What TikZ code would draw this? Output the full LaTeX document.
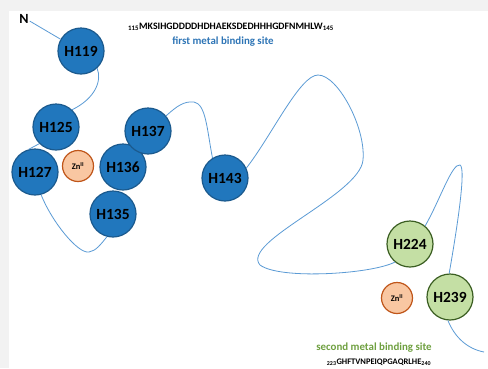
\documentclass[tikz,border=0pt]{standalone}
\usepackage{fontspec}
\setmainfont{Carlito}
\definecolor{hisblue}{HTML}{2177BD}
\definecolor{hisblueb}{HTML}{1B5A8E}
\definecolor{hisgreen}{HTML}{C4DFA4}
\definecolor{hisgreenb}{HTML}{3B5E22}
\definecolor{znfill}{HTML}{F9C7A2}
\definecolor{znb}{HTML}{C0561A}
\definecolor{chain}{HTML}{5B9BD5}
\definecolor{lblblue}{HTML}{2E75B6}
\definecolor{lblgreen}{HTML}{6FA040}
\definecolor{bggray}{HTML}{F2F2F2}
\begin{document}
\begin{tikzpicture}[x=1pt,y=-1pt,
  hisb/.style={circle,draw=hisblueb,line width=1.2pt,fill=hisblue,minimum size=46pt,inner sep=0pt,font=\fontsize{15.5}{15}\selectfont\bfseries},
  hisg/.style={circle,draw=hisgreenb,line width=1.2pt,fill=hisgreen,minimum size=46pt,inner sep=0pt,font=\fontsize{15.5}{15}\selectfont\bfseries},
  zn/.style={circle,draw=znb,line width=1.2pt,fill=znfill,minimum size=31pt,inner sep=0pt,font=\fontsize{8.5}{8}\selectfont\bfseries},
  chainline/.style={draw=chain,line width=0.8pt}]
\fill[bggray] (0,0) rectangle (488,368);
\fill[white] (9,11) rectangle (488,368);
\useasboundingbox (0,0) rectangle (488,368);
% labels
\node[font=\fontsize{14}{14}\selectfont\bfseries, inner sep=1pt] (n) at (24,19) {N};
\node[font=\fontsize{9.8}{10}\selectfont\bfseries, inner sep=0pt] (seq1) at (231,27) {\textsubscript{115}MKSIHGDDDDHDHAEKSDEDHHHGDFNMHLW\textsubscript{145}};
\node[font=\fontsize{10.9}{12}\selectfont\bfseries, text=lblblue, inner sep=0pt] (lbl1) at (223,42) {first metal binding site};
\node[font=\fontsize{10.9}{12}\selectfont\bfseries, text=lblgreen, inner sep=0pt] (lbl2) at (374,348) {second metal binding site};
\node[font=\fontsize{8.5}{9}\selectfont\bfseries, inner sep=0pt] (seq2) at (379,362) {\textsubscript{223}GHFTVNPEIQPGAQRLHE\textsubscript{240}};
\coordinate (cend) at (484,352);
% nodes
\node[hisb] (h119) at (81,51) {H119};
\node[hisb] (h125) at (56,127) {H125};
\node[hisb] (h127) at (35,172) {H127};
\node[zn]   (zn1)  at (78,166) {Zn\textsuperscript{II}};
\node[hisb] (h135) at (113,214) {H135};
\node[hisb] (h136) at (123,167) {H136};
\node[hisb] (h137) at (148,131) {H137};
\node[hisb] (h143) at (225,178) {H143};
\node[hisg] (h224) at (410,244) {H224};
\node[zn]   (zn2)  at (397,298) {Zn\textsuperscript{II}};
\node[hisg] (h239) at (450,297) {H239};
% connectors
\draw[chainline] (n.-20) -- (h119.150);
\draw[chainline] (h119.-47) .. controls (102,80) and (96,98) .. (h125.47);
\draw[chainline] (h125.-135) -- (h127.105);
\draw[chainline] (h127.-75) .. controls (52,222) and (78,254) .. (89,252)
   .. controls (96,251) and (101,244) .. (h135.-105);
\draw[chainline] (h137.40) .. controls (177,106) and (184,101) .. (194,102)
   .. controls (206,104) and (207,130) .. (h143.122);
\draw[chainline] (h143.25) .. controls (272,135) and (300,75) .. (318,75)
   .. controls (338,75) and (366,128) .. (363,160)
   .. controls (360,195) and (240,242) .. (260,265)
   .. controls (280,280) and (372,274) .. (h224.-130);
\draw[chainline] (h224.50) .. controls (440,200) and (452,163) .. (460,165)
   .. controls (467,168) and (455,240) .. (h239.92);
\draw[chainline] (h239.-95) .. controls (455,338) and (468,349) .. (cend);
\end{tikzpicture}
\end{document}
